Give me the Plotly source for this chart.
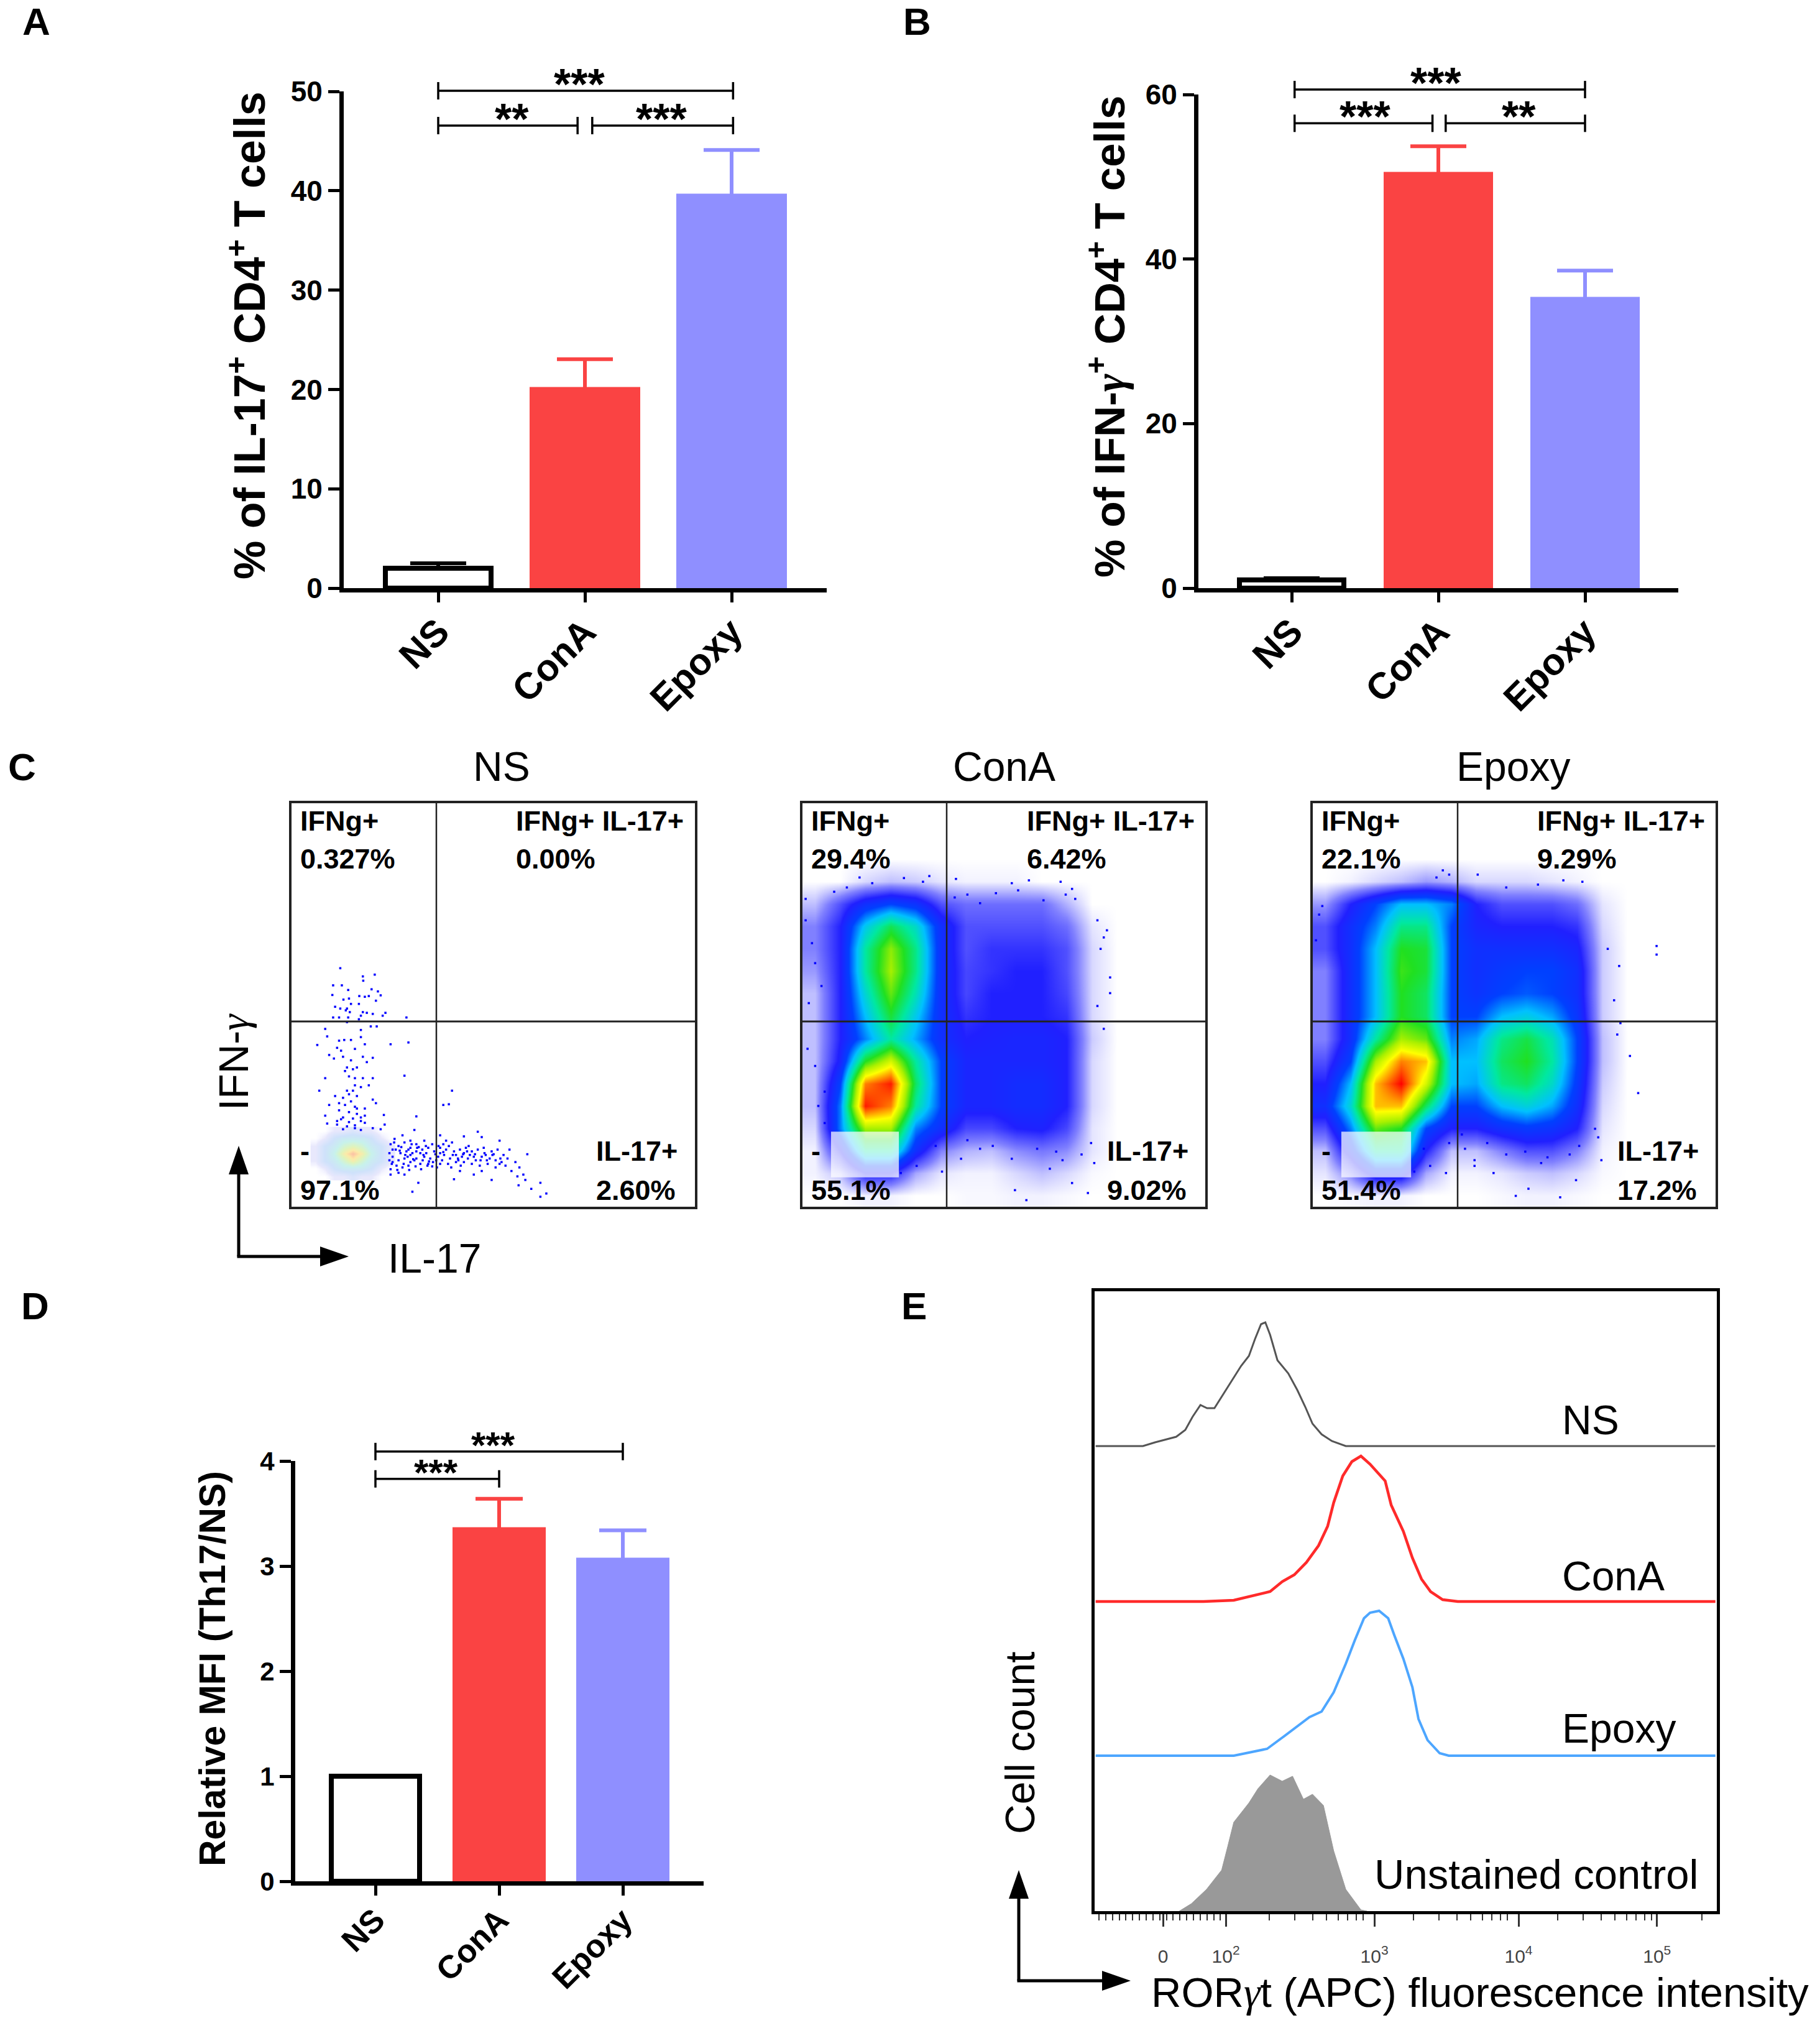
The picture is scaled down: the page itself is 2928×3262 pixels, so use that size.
import numpy as np
import plotly.graph_objects as go

W, H = 2928, 3262
FONT = "Liberation Sans"
RED = "#FA4343"
PERI = "#8F8FFF"
GAMMA = '<span style="font-family:Liberation Serif"><i>γ</i></span>'

# bar panels
categories = ["NS", "ConA", "Epoxy"]
bar_colors = ["white", RED, PERI]
err_colors = ["black", RED, PERI]

a_values = [2.0, 20.25, 39.7]
a_errors = [0.5, 2.8, 4.4]
b_values = [1.0, 50.6, 35.4]
b_errors = [0.2, 3.1, 3.2]
d_values = [1.0, 3.37, 3.08]
d_errors = [0.0, 0.27, 0.26]

# (from, to, level, label, label position)
a_brackets = [(0, 2.01, 50.06, "***", 0.96), (0, 0.95, 46.56, "**", 0.5), (1.05, 2.01, 46.56, "***", 1.52)]
b_brackets = [(0.02, 2.0, 60.6, "***", 0.985), (0.02, 0.96, 56.5, "***", 0.5), (1.05, 2.0, 56.5, "**", 1.55)]
d_brackets = [(0, 2.0, 4.09, "***", 0.95), (0, 1.0, 3.83, "***", 0.49)]

# flow plots: density read by eye, rows from top to bottom, 0 = empty, 10 = red
cona_density = [
    [0] * 16,
    [0] * 16,
    [0] * 16,
    [0, 0, .3, .5, .4, .2, .1, .1, .1, 0, 0, 0, 0, 0, 0, 0],
    [.5, 1.5, 2.5, 3, 2.6, 1.5, 1.2, 1.2, 1.2, 1.2, .6, 0, 0, 0, 0, 0],
    [1, 2, 4.2, 5.6, 4.6, 2.5, 1.5, 1.5, 1.5, 1.5, 1.2, .2, 0, 0, 0, 0],
    [1, 2, 5, 6.8, 5.2, 2.5, 1.5, 1.8, 1.8, 1.8, 1.5, .3, 0, 0, 0, 0],
    [.8, 2, 5, 7, 5.2, 2.5, 1.6, 1.8, 2, 2, 1.5, .3, 0, 0, 0, 0],
    [.5, 2, 4.5, 6.5, 4.8, 2.5, 1.6, 2, 2, 2, 1.6, .3, 0, 0, 0, 0],
    [.5, 2, 4, 5.8, 4.2, 2.5, 1.8, 2, 2, 2, 1.8, .3, 0, 0, 0, 0],
    [.5, 2, 3.5, 5, 3.8, 2.5, 2, 2.1, 2.2, 2.2, 2, .4, 0, 0, 0, 0],
    [.5, 2.2, 6, 7.5, 5, 3, 2.2, 2.2, 2.2, 2.2, 2, .3, 0, 0, 0, 0],
    [.5, 3, 9, 9.8, 5.5, 3, 2.2, 2.2, 2.4, 2.4, 2, .3, 0, 0, 0, 0],
    [.5, 3.5, 9.8, 9, 5, 3, 2.2, 2.2, 2.4, 2.4, 2, .3, 0, 0, 0, 0],
    [.3, 3.5, 7, 7, 3.5, 2.5, 1.6, 1.6, 2, 2.1, 1.6, .2, 0, 0, 0, 0],
    [.1, 2, 5, 5, 2.5, 1, .6, .5, .9, 1.1, .9, .2, 0, 0, 0, 0],
    [.1, .5, 2, 2, .7, .2, .1, .1, .3, .5, .3, .05, 0, 0, 0, 0],
    [0, 0, .1, .1, 0, 0, .05, .05, .1, .1, .05, 0, 0, 0, 0, 0],
]
epoxy_density = [
    [0] * 16,
    [0] * 16,
    [0] * 16,
    [0, .1, .3, .5, .8, .6, .3, .3, .3, .2, .1, 0, 0, 0, 0, 0],
    [.8, 2, 3, 4, 4, 3.5, 2, 1.5, 1.5, 1.5, 1.2, .2, 0, 0, 0, 0],
    [1.5, 2.5, 3.5, 5.2, 5.2, 3, 2.2, 2, 2, 2, 1.8, .3, 0, 0, 0, 0],
    [1.5, 2.5, 4, 6, 5.8, 3, 2.5, 2.5, 2.5, 2.5, 2.2, .4, 0, 0, 0, 0],
    [1, 2.5, 4, 6.2, 5.8, 3, 2.5, 2.8, 3, 3, 2.5, .4, 0, 0, 0, 0],
    [1, 2.5, 4, 6, 5.5, 3, 2.6, 3, 3.2, 3, 2.5, .4, 0, 0, 0, 0],
    [1, 2.5, 4, 6, 5.5, 3, 3, 4, 4.3, 3.8, 2.7, .4, 0, 0, 0, 0],
    [1, 2.5, 5, 7, 6.5, 3.5, 3.8, 5.2, 5.7, 4.8, 3, .5, 0, 0, 0, 0],
    [1.5, 3, 7, 9, 8.5, 4, 4, 5.5, 6, 5, 3, .5, 0, 0, 0, 0],
    [2, 4, 8.5, 10, 7.5, 4, 3.8, 5.2, 5.5, 4.6, 2.8, .4, 0, 0, 0, 0],
    [2.5, 4.5, 8.5, 8.5, 5.5, 3, 3, 4, 4.4, 3.8, 2.5, .3, 0, 0, 0, 0],
    [1.5, 3.5, 6.5, 6, 3, 2, 2, 2.5, 2.8, 2.6, 2, .2, 0, 0, 0, 0],
    [.5, 2.5, 5, 5, 2, .5, .5, 1, 1.5, 1.5, 1, .1, 0, 0, 0, 0],
    [.2, 1, 2.5, 2.5, .7, .1, .1, .2, .4, .5, .3, .05, 0, 0, 0, 0],
    [0, .05, .1, .1, 0, 0, 0, .05, .1, .1, .05, 0, 0, 0, 0, 0],
]
ns_gate_density = [
    [0, 0, 1, 1, 2, 1, 1, 0, 0],
    [0, 1, 3, 4, 4, 4, 3, 1, 0],
    [1, 3, 4, 6, 7, 6, 4, 3, 1],
    [1, 3, 5, 8, 10, 8, 5, 3, 1],
    [1, 3, 4, 6, 8, 6, 4, 3, 1],
    [0, 1, 3, 4, 4, 4, 3, 1, 0],
    [0, 0, 1, 1, 2, 1, 1, 0, 0],
]

ns_dots_x = [388, 445, 475, 446, 370, 392, 408, 467, 483, 490, 368, 410, 396, 436, 450, 460, 478, 435, 415, 405, 375, 388, 402, 412, 445, 455, 470, 502, 495, 370, 385, 408, 435, 440, 555, 405, 440, 465, 480, 350, 355, 330, 385, 398, 415, 440, 450, 425, 380, 390, 515, 560, 360, 372, 395, 415, 445, 470, 455, 405, 420, 430, 400, 550, 350, 410, 425, 445, 470, 335, 425, 440, 460, 410, 430, 395, 470, 375, 670, 400, 425, 478, 360, 648, 662, 385, 410, 430, 450, 498, 350, 390, 420, 440, 580, 355, 380, 405, 425, 450, 470, 500, 395, 440, 490,
             515, 525, 545, 575, 520, 535, 550, 565, 580, 600, 620, 640, 655, 670, 700, 735, 745, 790, 815, 860, 520, 540, 555, 565, 580, 595, 610, 625, 640, 655, 675, 690, 705, 720, 735, 750, 770, 785, 800, 520, 535, 550, 565, 580, 600, 615, 635, 650, 665, 680, 695, 710, 725, 745, 765, 780, 795, 515, 530, 545, 560, 590, 610, 640, 660, 680, 700, 720, 740, 760, 780, 805, 830, 840, 820, 835, 850, 855, 725, 690, 675, 770, 745, 585, 570, 838, 870, 893, 893, 908, 620, 535, 550, 515, 560, 570, 565, 575, 590, 605, 630, 640, 645, 685, 700, 715, 755,
             512, 528, 542, 558, 572, 586, 598, 612, 628, 512, 524, 538, 552, 568, 582, 596, 608, 622, 636, 648, 662, 672, 686, 698, 712, 728, 742, 758, 775, 792, 518, 532, 548, 562, 578, 592, 604, 632, 648, 668, 692, 708, 730, 752, 772, 790, 810, 380, 395, 410, 425, 440, 385, 415, 430, 450, 405, 420]
ns_dots_y = [657, 680, 675, 692, 705, 705, 718, 716, 722, 733, 732, 742, 745, 735, 737, 735, 748, 757, 757, 770, 765, 770, 775, 780, 780, 782, 785, 782, 790, 795, 795, 795, 800, 790, 795, 808, 830, 820, 820, 827, 848, 872, 860, 858, 858, 850, 870, 883, 880, 888, 870, 865, 900, 910, 905, 915, 905, 908, 920, 935, 940, 935, 945, 958, 965, 960, 965, 965, 965, 1000, 985, 990, 985, 1010, 1015, 1020, 1025, 1015, 1000, 1040, 1045, 1035, 1040, 1040, 1038, 1055, 1060, 1065, 1070, 1068, 1070, 1080, 1078, 1075, 1072, 1092, 1095, 1100, 1097, 1090, 1105, 1095, 1108, 1110, 1108,
             1150, 1135, 1125, 1110, 1165, 1155, 1145, 1140, 1150, 1140, 1150, 1125, 1140, 1145, 1128, 1115, 1130, 1140, 1165, 1178, 1185, 1175, 1170, 1180, 1170, 1165, 1160, 1170, 1160, 1165, 1170, 1165, 1160, 1170, 1165, 1160, 1170, 1165, 1180, 1200, 1195, 1190, 1200, 1190, 1185, 1190, 1185, 1180, 1190, 1180, 1185, 1190, 1185, 1185, 1190, 1195, 1200, 1220, 1210, 1215, 1210, 1205, 1205, 1205, 1205, 1200, 1200, 1205, 1210, 1205, 1215, 1210, 1200, 1215, 1225, 1240, 1235, 1250, 1235, 1225, 1248, 1250, 1225, 1258, 1283, 1265, 1275, 1258, 1297, 1288, 1212, 1230, 1235, 1235, 1165, 1175, 1160, 1195, 1175, 1175, 1195, 1175, 1195, 1190, 1175, 1180, 1180,
             1175, 1165, 1158, 1185, 1192, 1158, 1180, 1198, 1178, 1195, 1145, 1168, 1180, 1150, 1160, 1195, 1210, 1200, 1155, 1172, 1155, 1180, 1195, 1178, 1155, 1178, 1195, 1195, 1178, 1190, 1205, 1222, 1205, 1222, 1212, 1220, 1155, 1215, 1150, 1215, 1210, 1170, 1195, 1175, 1180, 1205, 1190, 1085, 1075, 1088, 1105, 1085, 1035, 1030, 1050, 1050, 1000, 1000]

cona_dots_x = [290, 320, 370, 375, 393, 430, 465, 490, 500, 450, 260, 220, 195, 130, 200, 240, 282, 370, 397, 447, 465, 520, 510, 525, 515, 45, 50, 75, 65,
               300, 340, 410, 440, 480, 495, 280, 300, 320, 345, 380, 420, 455, 470, 505, 515, 525, 505, 45, 55, 60, 70, 48, 60, 75, 90, 110, 150, 230, 250]
cona_dots_y = [1335, 1300, 1335, 1445, 1480, 1370, 1420, 1455, 1350, 1340, 1380, 1360, 1385, 350, 352, 345, 355, 370, 360, 365, 390, 535, 600, 755, 880, 425, 790, 1100, 1150,
               1270, 1290, 1300, 1310, 1320, 1280, 420, 410, 440, 405, 395, 430, 410, 425, 500, 560, 700, 800, 500, 580, 650, 730, 950, 1010, 1210, 400, 385, 370, 365, 1290]
epoxy_dots_x = [1387, 1387, 1328, 1358, 1345, 1040, 1050, 1060, 1105, 1150, 1200, 1240, 1270, 1100, 1130, 1185, 1235, 1260, 1165, 1005, 1030, 1055, 1300,
                1085, 1120, 1180, 1215, 1265, 1295, 1310, 1320, 1330, 1325, 855, 850, 860, 1020, 1060, 1080, 1100, 1150, 1205, 1250, 1290]
epoxy_dots_y = [590, 620, 660, 1105, 975, 350, 325, 340, 340, 385, 375, 360, 365, 1360, 1385, 1440, 1470, 1410, 1465, 1380, 1360, 1385, 1340,
                1300, 1280, 1310, 1330, 1290, 1260, 600, 780, 860, 900, 480, 570, 450, 1300, 1280, 1250, 1340, 1320, 1350, 1320, 1230]

# histograms: x in decades of the display scale, counts above each baseline
e_tick_pos = [1.565, 2.0, 3.03, 4.03, 4.99]
e_tick_text = ["0", "10<sup>2</sup>", "10<sup>3</sup>", "10<sup>4</sup>", "10<sup>5</sup>"]
ns_x = [1.097, 1.425, 1.509, 1.593, 1.656, 1.719, 1.769, 1.824, 1.870, 1.921, 1.992, 2.055, 2.106, 2.160, 2.202, 2.244, 2.274, 2.307, 2.358, 2.433, 2.496, 2.551, 2.601, 2.664, 2.736, 2.832, 5.395]
ns_h = [0, 0, 6, 11, 15, 26, 47, 66, 61, 61, 87, 111, 129, 145, 172, 196, 199, 179, 138, 117, 90, 63, 36, 19, 8, 0, 0]
cona_x = [1.097, 1.845, 2.055, 2.181, 2.307, 2.391, 2.475, 2.559, 2.643, 2.706, 2.748, 2.811, 2.874, 2.937, 3.000, 3.105, 3.147, 3.231, 3.294, 3.357, 3.420, 3.504, 3.609, 5.395]
cona_h = [0, 0, 2, 9, 16, 32, 43, 63, 90, 121, 159, 202, 225, 234, 221, 194, 155, 113, 70, 36, 16, 3, 0, 0]
epoxy_x = [1.097, 2.055, 2.160, 2.286, 2.391, 2.496, 2.580, 2.664, 2.748, 2.832, 2.895, 2.958, 3.000, 3.063, 3.126, 3.168, 3.231, 3.294, 3.336, 3.399, 3.483, 3.546, 5.395]
epoxy_h = [0, 0, 5, 11, 29, 48, 62, 71, 102, 148, 186, 221, 230, 233, 221, 194, 156, 110, 59, 25, 4, 0, 0]
unst_x = [1.677, 1.761, 1.866, 1.971, 2.013, 2.055, 2.160, 2.223, 2.307, 2.391, 2.463, 2.538, 2.601, 2.677, 2.748, 2.832, 2.937, 2.979]
unst_h = [0, 12, 35, 66, 104, 143, 174, 197, 219, 209, 217, 180, 188, 170, 97, 35, 2, 0]
e_baselines = [748, 498, 250, 0]

density_scale = [
    [0, "#ffffff"], [0.03, "#d8d8ff"], [0.1, "#8080ff"], [0.2, "#2020ff"], [0.3, "#0040ff"],
    [0.4, "#00c0ff"], [0.5, "#00e8a0"], [0.6, "#20e020"], [0.7, "#a8f000"], [0.8, "#ffff00"],
    [0.9, "#ff8000"], [1, "#ff0000"],
]
pale_scale = [
    [0, "rgba(235,235,255,0)"], [0.1, "#e8e8fc"], [0.3, "#cfe2fb"], [0.5, "#c8f2ec"],
    [0.7, "#e0f4bc"], [0.85, "#fdeaa8"], [1, "#fbc0a4"],
]


def xdom(l, r):
    return [l / W, r / W]


def ydom(t, b):
    return [1 - b / H, 1 - t / H]


fig = go.Figure()
notes = []
shapes = []
layout = {}


def note(x, y, text, size=66, bold=False, anchor="center", angle=0, color="black"):
    notes.append(dict(
        x=x / W, y=1 - y / H, xref="paper", yref="paper", text=text, showarrow=False,
        xanchor=anchor, yanchor="middle", textangle=angle,
        font=dict(family=FONT, size=size, color=color, weight=700 if bold else 400),
    ))


def line_px(x0, y0, x1, y1, width, color="black"):
    shapes.append(dict(type="line", xref="paper", yref="paper", x0=x0 / W, y0=1 - y0 / H,
                       x1=x1 / W, y1=1 - y1 / H, line=dict(color=color, width=width)))


def arrow_pair(x, y, top, right, lw, head_w, head_l):
    # the two axis arrows drawn beside panels C and E
    line_px(x, y, x, top + head_l, lw)
    line_px(x - lw / 2, y, right - head_l, y, lw)
    up = [(x - head_w, top + head_l), (x, top), (x + head_w, top + head_l)]
    rt = [(right - head_l, y - head_w), (right, y), (right - head_l, y + head_w)]
    for tri in (up, rt):
        path = "M " + " L ".join(f"{a / W} {1 - b / H}" for a, b in tri) + " Z"
        shapes.append(dict(type="path", xref="paper", yref="paper", path=path,
                           fillcolor="black", line=dict(width=0)))


def bar_panel(n, box, centers, values, errors, ymax, yticks, brackets, tick_size, bar_w, cap, star_size, tick_font, standoff):
    left, right, top, bottom = box
    step = centers[1] - centers[0]
    unit = (bottom - top) / ymax
    xa, ya = f"x{n}", f"y{n}"
    for i, cat in enumerate(categories):
        # error bar goes in first so that the bar hides its lower cap
        fig.add_trace(go.Bar(
            x=[i], y=[values[i]], width=[0.01], xaxis=xa, yaxis=ya, marker=dict(color="rgba(0,0,0,0)"),
            error_y=dict(type="data", symmetric=False, array=[errors[i]], arrayminus=[6 / unit],
                         color=err_colors[i], thickness=6, width=cap, visible=errors[i] > 0),
            showlegend=False, hoverinfo="skip", cliponaxis=False,
        ))
        w = bar_w - 8 if i == 0 else bar_w
        fig.add_trace(go.Bar(
            x=[i], y=[values[i]], width=[w / step], xaxis=xa, yaxis=ya,
            marker=dict(color=bar_colors[i], line=dict(color="black" if i == 0 else bar_colors[i], width=8 if i == 0 else 0)),
            showlegend=False, name=cat, cliponaxis=False,
        ))
    for x0, x1, lvl, label, star_x in brackets:
        px0 = centers[0] + x0 * step
        px1 = centers[0] + x1 * step
        py = bottom - lvl * unit
        line_px(px0, py, px1, py, 3.5)
        line_px(px0, py - 14, px0, py + 14, 3.5)
        line_px(px1, py - 14, px1, py + 14, 3.5)
        note(centers[0] + star_x * step, py - 10, label, size=star_size, bold=True)
    layout[f"xaxis{n}"] = dict(
        domain=xdom(left, right), anchor=ya, range=[(left - centers[0]) / step, (right - centers[0]) / step],
        tickmode="array", tickvals=[0, 1, 2], ticktext=categories, tickangle=-45, ticklabelstandoff=standoff,
        tickfont=dict(family=FONT, size=tick_font, color="black", weight=700),
        showline=True, linecolor="black", linewidth=7, ticks="outside", ticklen=16, tickwidth=5,
        tickcolor="black", showgrid=False, zeroline=False,
    )
    layout[f"yaxis{n}"] = dict(
        domain=ydom(top, bottom), anchor=xa, range=[0, ymax], tickmode="array", tickvals=yticks,
        tickfont=dict(family=FONT, size=tick_size, color="black", weight=700),
        showline=True, linecolor="black", linewidth=7, ticks="outside", ticklen=18, tickwidth=5,
        tickcolor="black", showgrid=False, zeroline=False,
    )


bar_panel(1, (553, 1330, 147, 946), [705, 941, 1177], a_values, a_errors, 50, [0, 10, 20, 30, 40, 50],
          a_brackets, 46, 178, 45, 70, 60, -12)
bar_panel(2, (1928, 2700, 152, 946), [2078, 2314, 2547], b_values, b_errors, 60, [0, 20, 40, 60],
          b_brackets, 46, 176, 45, 70, 60, -12)
bar_panel(3, (475, 1132, 2350, 3026), [604, 803, 1003], d_values, d_errors, 4, [0, 1, 2, 3, 4],
          d_brackets, 42, 150, 38, 60, 52, -12)
note(397, 540, "% of IL-17<sup>+</sup> CD4<sup>+</sup> T cells", size=70, bold=True, angle=-90)
note(1780, 541, f"% of IFN-{GAMMA}<sup>+</sup> CD4<sup>+</sup> T cells", size=69, bold=True, angle=-90)
note(342, 2684, "Relative MFI (Th17/NS)", size=59, bold=True, angle=-90)


# flow plots
def flow_panel(n, box, xr, yr, vline_px, texts, dots_x, dots_y, density=None):
    left, right, top, bottom = box
    xa, ya = f"x{n}", f"y{n}"
    if density is not None:
        rows, cols = len(density), len(density[0])
        fig.add_trace(go.Heatmap(
            z=density, xaxis=xa, yaxis=ya,
            x=list(np.linspace(xr[0], xr[1], cols * 2 + 1)[1::2]),
            y=list(np.linspace(yr[0], yr[1], rows * 2 + 1)[1::2]),
            colorscale=density_scale, zmin=0, zmax=10, zsmooth="best", showscale=False, hoverinfo="skip",
        ))
    fig.add_trace(go.Scatter(x=dots_x, y=dots_y, xaxis=xa, yaxis=ya, mode="markers",
                             marker=dict(symbol="square", size=3.5, color="#0000ff"),
                             showlegend=False, hoverinfo="skip"))
    layout[f"xaxis{n}"] = dict(domain=xdom(left, right), anchor=ya, range=xr, showticklabels=False, ticks="",
                               showgrid=False, zeroline=False, showline=True, mirror=True, linecolor="#222", linewidth=4)
    layout[f"yaxis{n}"] = dict(domain=ydom(top, bottom), anchor=xa, range=[yr[1], yr[0]],
                               showticklabels=False, ticks="", showgrid=False, zeroline=False,
                               showline=True, mirror=True, linecolor="#222", linewidth=4)
    line_px(vline_px, top, vline_px, bottom + 4, 2.5, "#222")
    line_px(left, 1643, right, 1643, 3, "#222")
    for px_x, px_y, t in texts:
        note(px_x, px_y, t, size=45, bold=True, anchor="left")


def quad_texts(left, vals):
    d = left - 469
    return [(481 + d, 1320, "IFNg+"), (481 + d, 1381, vals[0]),
            (828 + d, 1320, "IFNg+ IL-17+"), (828 + d, 1381, vals[1]),
            (481 + d, 1851, "-"), (481 + d, 1914, vals[2]),
            (957 + d, 1851, "IL-17+"), (957 + d, 1914, vals[3])]


flow_panel(4, (469, 1118, 1292, 1941), [265, 1283], [195, 1325], 702,
           quad_texts(469, ["0.327%", "0.00%", "97.1%", "2.60%"]), ns_dots_x, ns_dots_y)
fig.add_trace(go.Heatmap(
    z=ns_gate_density, xaxis="x4", yaxis="y4",
    x=list(np.linspace(325, 515, 9)), y=list(np.linspace(1112, 1240, 7)),
    colorscale=pale_scale, zmin=0, zmax=10, zsmooth="best", showscale=False, hoverinfo="skip",
))
flow_panel(5, (1291, 1939, 1292, 1941), [40, 675], [90, 1503], 1523,
           quad_texts(1291, ["29.4%", "6.42%", "55.1%", "9.02%"]), cona_dots_x, cona_dots_y, cona_density)
flow_panel(6, (2112, 2760, 1292, 1941), [845, 1480], [90, 1503], 2345,
           quad_texts(2112, ["22.1%", "9.29%", "51.4%", "17.2%"]), epoxy_dots_x, epoxy_dots_y, epoxy_density)

# pale gate boxes over the density
for xa, ya, x0, x1 in [("x5", "y5", 85, 192), ("x6", "y6", 890, 1000)]:
    shapes.append(dict(type="rect", xref=xa, yref=ya, x0=x0, x1=x1, y0=1240, y1=1400,
                       fillcolor="rgba(255,255,255,0.72)", line=dict(width=0)))

note(807, 1233, "NS")
note(1616, 1233, "ConA")
note(2434, 1233, "Epoxy")
note(376, 1708, f"IFN-{GAMMA}", angle=-90)
note(699, 2024, "IL-17")
arrow_pair(384, 2021, 1843, 561, 5, 16, 46)

# histogram panel E
e_series = [(ns_x, ns_h, "#555555", 3), (cona_x, cona_h, "#FF2A2A", 4.5), (epoxy_x, epoxy_h, "#4DA6FF", 4)]
for (xs, hs, col, lw), base in zip(e_series, e_baselines):
    fig.add_trace(go.Scatter(x=xs, y=[h + base for h in hs], xaxis="x7", yaxis="y7", mode="lines",
                             line=dict(color=col, width=lw), showlegend=False))
fig.add_trace(go.Scatter(x=unst_x, y=unst_h, xaxis="x7", yaxis="y7", mode="lines", fill="tozeroy",
                         fillcolor="#999999", line=dict(color="#999999", width=1), showlegend=False))

minor_ticks = [d + np.log10(k) for d in (2, 3, 4) for k in range(2, 10)]
minor_ticks += [5.0 + np.log10(k) for k in (2, 3)]
minor_ticks += [1.12 + 0.0468 * i for i in range(19)]
layout["xaxis7"] = dict(
    domain=xdom(1761, 2762), anchor="y7", range=[1.09, 5.405], tickmode="array", tickvals=e_tick_pos,
    ticktext=e_tick_text, tickfont=dict(family=FONT, size=30, color="#444"),
    ticks="outside", ticklen=20, tickwidth=3, tickcolor="#333",
    minor=dict(tickmode="array", tickvals=minor_ticks, ticks="outside", ticklen=10, tickwidth=2, tickcolor="#333"),
    showline=True, mirror=True, linecolor="black", linewidth=5, showgrid=False, zeroline=False,
    ticklabelstandoff=22,
)
layout["yaxis7"] = dict(domain=ydom(2077, 3074), anchor="x7", range=[0, 997], showticklabels=False, ticks="",
                        showline=True, mirror=True, linecolor="black", linewidth=5, showgrid=False, zeroline=False)
note(2511, 2284, "NS", anchor="left")
note(2511, 2535, "ConA", anchor="left")
note(2511, 2780, "Epoxy", anchor="left")
note(2209, 3014, "Unstained control", size=67, anchor="left")
note(1641, 2803, "Cell count", angle=-90)
note(1850, 3204, f"ROR{GAMMA}t (APC) fluorescence intensity", size=67, anchor="left")
arrow_pair(1639, 3186, 3008, 1819, 5, 16, 46)

note(58, 35, "A", size=62, bold=True)
note(1475, 35, "B", size=62, bold=True)
note(35, 1233, "C", size=62, bold=True)
note(56, 2100, "D", size=62, bold=True)
note(1470, 2100, "E", size=62, bold=True)

fig.update_layout(
    width=W, height=H, margin=dict(l=0, r=0, t=0, b=0, autoexpand=False), paper_bgcolor="white",
    plot_bgcolor="rgba(0,0,0,0)", barmode="overlay", showlegend=False, annotations=notes, shapes=shapes,
    font=dict(family=FONT), **layout,
)
fig.write_html("out.html", config={"displayModeBar": False},
               post_script="document.body.style.margin='0';document.documentElement.style.overflow='hidden';")
